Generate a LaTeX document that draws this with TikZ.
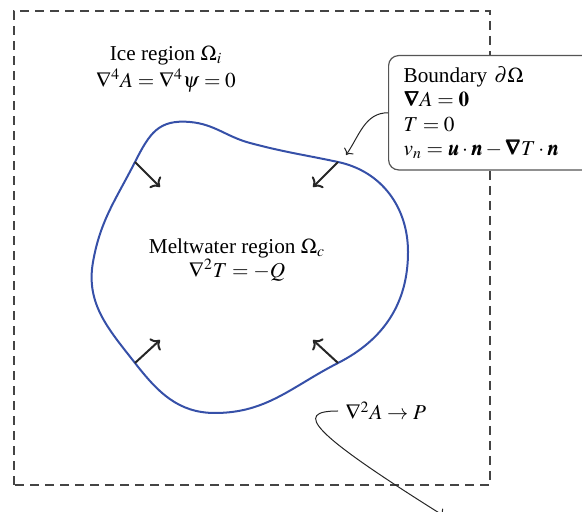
\documentclass[tikz,border=0pt]{standalone}
\usepackage{mathptmx}
\usepackage{bm}
\usepackage{fontspec}
\setmainfont{Liberation Serif}
\usetikzlibrary{arrows.meta}
\definecolor{meltline}{HTML}{3650A8}
\definecolor{framegray}{HTML}{444444}
\definecolor{boxgray}{HTML}{555555}

\begin{document}
\begin{tikzpicture}[x=0.5pt, y=0.5pt, >=To, line width=0.9pt,
    font=\fontsize{10.6}{12.2}\selectfont,
    normalarrow/.style={->, line width=1pt, black!85},
    thinarrow/.style={->, line width=0.5pt, black!85},
    regiontext/.style={align=center, inner sep=1pt},
    infobox/.style={draw=boxgray, fill=white, line width=0.6pt, rounded corners=5pt,
      align=left, inner xsep=7.5pt, inner ysep=5.5pt, text width=100pt}]
  % units: px of the 582 x 512 frame, y upward
  \useasboundingbox (0,0) rectangle (582,512);
  \clip (0,0) rectangle (582,512);

  % ice domain
  \draw[framegray, line width=0.7pt, dash pattern=on 4.5pt off 3pt] (14,27) rectangle (490,501);

  % normals (base on the rim, tip inside)
  \coordinate (nwbase) at (135,350);  \coordinate (nwtip) at (160,325);
  \coordinate (nebase) at (338,350);  \coordinate (netip) at (313,325);
  \coordinate (swbase) at (135,149);  \coordinate (swtip) at (160,172);
  \coordinate (sebase) at (338,149);  \coordinate (setip) at (313,172);

  % meltwater boundary
  \draw[meltline, line width=1pt]
     (nwbase) to[out=63,in=175,looseness=1.2] (190,390)
     to[out=-5,in=165] (250,369)
     to[out=-15,in=168] (nebase)
     to[out=-12,in=90] (408,260)
     to[out=-90,in=27] (sebase)
     to[out=207,in=0] (215,99)
     to[out=180,in=-52] (swbase)
     to[out=128,in=-100] (93,250)
     to[out=80,in=243] (nwbase) -- cycle;

  \draw[normalarrow] (nwbase) -- (nwtip);
  \draw[normalarrow] (nebase) -- (netip);
  \draw[normalarrow] (swbase) -- (swtip);
  \draw[normalarrow] (sebase) -- (setip);

  % region labels
  \node[regiontext] (ice) at (166,443) {Ice region $\Omega_i$\\[1pt] $\nabla^4 A = \nabla^4\psi = 0$};
  \node[regiontext] (melt) at (237,252) {Meltwater region $\Omega_c$\\ $\nabla^2 T = -Q$};

  % boundary conditions
  \node[infobox, anchor=north west] (bdry) at (388,457)
    {Boundary $\partial\Omega$\\
     $\bm{\nabla} A = \mathbf{0}$\\
     $T = 0$\\
     $v_n = \bm{u}\cdot\bm{n} - \bm{\nabla} T\cdot\bm{n}$};
  \coordinate (rimhit) at (346,357);
  \draw[thinarrow] (bdry.west) to[out=180,in=55] (rimhit);

  % far field
  \node[anchor=west] (force) at (338,101) {$\nabla^2 A \to P$};
  \coordinate (meltsink) at (444,-4);
  \draw[thinarrow] (force.west) .. controls (293,101) and (310,80) .. (meltsink);
\end{tikzpicture}
\end{document}
